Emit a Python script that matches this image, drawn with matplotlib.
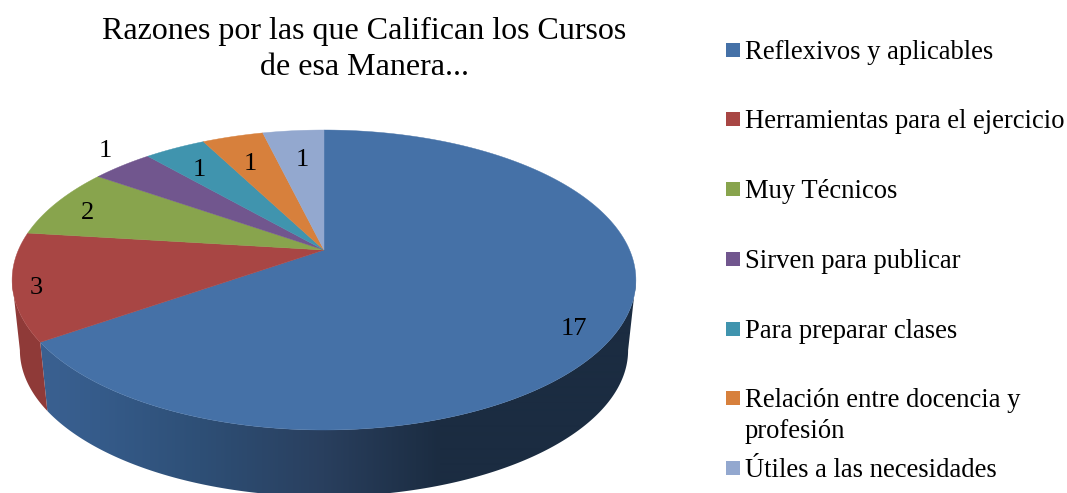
import numpy as np
import matplotlib.pyplot as plt
from matplotlib.colors import to_rgb
from matplotlib.patches import Rectangle, Polygon

labels = ["Reflexivos y aplicables", "Herramientas para el ejercicio", "Muy Técnicos",
          "Sirven para publicar", "Para preparar clases",
          "Relación entre docencia y\nprofesión", "Útiles a las necesidades"]
values = [17, 3, 2, 1, 1, 1, 1]
colors = ["#4571A7", "#A84644", "#88A44D", "#71568E", "#4094AE", "#D7803C", "#93A8CF"]
title = "Razones por las que Califican los Cursos\nde esa Manera..."

# layout, in pixels of the picture
cx, cy = 324, 250
kp, ax_w, ax_h = 0.2, 305.6, 144
shrink, depth = 0.975, 71
label_pos = [(574, 329), (36, 288), (88, 213), (105, 151), (199, 170), (250, 164), (302, 160)]
legend_y = [50, 119, 189, 259, 329, 398, 468]
blue_x = [50, 100, 200, 324, 440]
blue_side = ["#3A6090", "#355B8A", "#2E4F76", "#293F5E", "#1B2C41"]
red_side = "#8F3A38"

plt.rcParams['font.family'] = ['Liberation Serif', 'DejaVu Serif']
fig = plt.figure(figsize=(10.67, 4.93), dpi=100)
ax = fig.add_axes([0, 0, 1, 1])
ax.axis('off')


def top_face(t):
    # t is clockwise from 12 o'clock
    u, v = np.sin(t), np.cos(t)
    w = 1 + kp * v
    return cx + ax_w * u / w, cy - ax_h * v / w


def bottom_face(t):
    u, v = np.sin(t), np.cos(t)
    w = 1 + kp * v
    return cx + shrink * ax_w * u / w, cy + depth - shrink * ax_h * v / w


def wall(t0, t1):
    ts = np.linspace(t0, t1, 300)
    x0, y0 = top_face(ts)
    x1, y1 = bottom_face(ts)
    return np.c_[np.r_[x0, x1[::-1]], np.r_[y0, y1[::-1]]]


edges = np.cumsum([0] + values) / sum(values) * 2 * np.pi
t_sil = np.arccos(-kp)

# side wall, only the part that faces the viewer
xs = np.arange(0, 1067)
rgb = np.array([to_rgb(c) for c in blue_side])
grad = np.stack([np.interp(xs, blue_x, rgb[:, j]) for j in range(3)], axis=-1)[None, :, :]
im = ax.imshow(grad, extent=(0, 1067, 493, 0), aspect='auto', interpolation='bilinear')
im.set_clip_path(Polygon(wall(t_sil, edges[1]), transform=ax.transData))
ax.add_patch(Polygon(wall(edges[1], 2 * np.pi - t_sil), color=red_side, lw=0))

# top of the pie
for i in range(len(values)):
    ts = np.linspace(edges[i], edges[i + 1], 200)
    x, y = top_face(ts)
    ax.fill(np.r_[cx, x], np.r_[cy, y], color=colors[i], lw=0.3)

ax.set_xlim(0, 1067)
ax.set_ylim(493, 0)

for v, (x, y) in zip(values, label_pos):
    ax.text(x, y, str(v), fontsize=19, ha='center', va='center', color='black')

ax.text(364, 49.5, title, fontsize=23, ha='center', va='center', linespacing=1.3, color='black')

for lab, c, y in zip(labels, colors, legend_y):
    ax.add_patch(Rectangle((726, y - 7), 14, 14, color=c, lw=0))
    ax.text(745, y - 10, lab, fontsize=19.2, ha='left', va='top', linespacing=1.3, color='black')

fig.savefig("out.png", dpi=100)
